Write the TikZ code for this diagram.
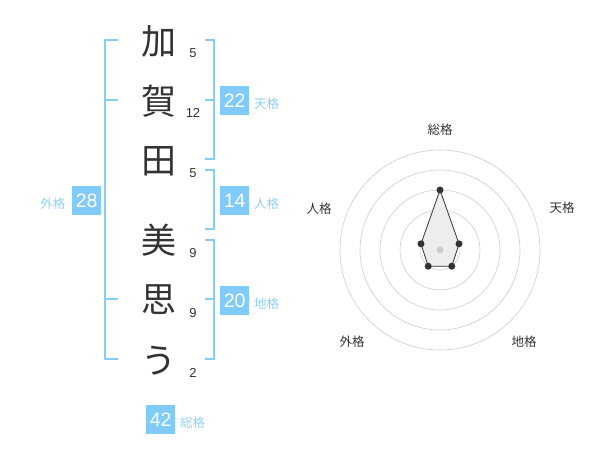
\documentclass[tikz,border=0pt]{standalone}
\usepackage{fontspec}
\setmainfont{Noto Sans CJK JP}
\newfontfamily\digitfont{Liberation Sans}
\definecolor{boxblue}{HTML}{80CBFA}
\definecolor{lineblue}{HTML}{86CDF8}
\definecolor{lblblue}{HTML}{8ED0F5}
\definecolor{ink}{HTML}{333333}
\definecolor{ring}{HTML}{CCCCCC}
\begin{document}
\begin{tikzpicture}[x=1pt,y=-1pt,
  kanji/.style={inner sep=0pt,text=ink,font=\fontsize{35}{35}\selectfont},
  stroke/.style={inner sep=0pt,text=ink,font=\digitfont\fontsize{13}{13}\selectfont},
  valbox/.style={fill=boxblue,text=white,minimum width=29pt,minimum height=29pt,inner sep=0pt,font=\digitfont\fontsize{19.5}{19.5}\selectfont},
  lbl/.style={inner sep=0pt,text=lblblue,font=\fontsize{12.5}{12.5}\selectfont},
  bracket/.style={draw=lineblue,line width=2pt},
  axis/.style={inner sep=0pt,text=ink,font=\fontsize{12.5}{12.5}\selectfont},
  ringc/.style={draw=ring,line width=0.6pt},
  dot/.style={circle,fill=ink,inner sep=0pt,minimum size=7pt}
]
\useasboundingbox (0,0) rectangle (600,470);
% name characters
\node[kanji] (c1) at (159,41) {加};
\node[kanji] (c2) at (159,101) {賀};
\node[kanji] (c3) at (159,161) {田};
\node[kanji] (c4) at (159,240) {美};
\node[kanji] (c5) at (159,300) {思};
\node[kanji] (c6) at (159,361) {う};
% stroke counts
\node[stroke] (s1) at (193,53) {5};
\node[stroke] (s2) at (193,113) {12};
\node[stroke] (s3) at (193,173) {5};
\node[stroke] (s4) at (193,253) {9};
\node[stroke] (s5) at (193,313) {9};
\node[stroke] (s6) at (193,373) {2};
% brackets
\draw[bracket] (118,40) -- (105,40) -- (105,359) -- (118,359);
\draw[bracket] (105,100) -- (118,100);
\draw[bracket] (105,299) -- (118,299);
\draw[bracket] (205,40) -- (214,40) -- (214,159) -- (205,159);
\draw[bracket] (214,100) -- (205,100);
\draw[bracket] (205,170) -- (214,170) -- (214,229) -- (205,229);
\draw[bracket] (205,240) -- (214,240) -- (214,359) -- (205,359);
\draw[bracket] (214,299) -- (205,299);
% value boxes
\node[valbox] (ten) at (234.7,100.5) {22};
\node[lbl,anchor=west] (tenl) at (254,104) {天格};
\node[valbox] (jin) at (234.7,200.5) {14};
\node[lbl,anchor=west] (jinl) at (254,203.5) {人格};
\node[valbox] (gai) at (86.7,200.5) {28};
\node[lbl,anchor=east] (gail) at (65.5,203.5) {外格};
\node[valbox] (chi) at (234.7,300.5) {20};
\node[lbl,anchor=west] (chil) at (254,304) {地格};
\node[valbox] (sou) at (160.7,419.5) {42};
\node[lbl,anchor=west] (soul) at (180,423) {総格};
% radar
\foreach \r in {20,40,60,80,100} \draw[ringc] (440,250) circle[radius=\r];
\coordinate (pS) at (440,190);
\coordinate (pT) at (459.0,243.8);
\coordinate (pC) at (451.8,266.2);
\coordinate (pG) at (428.2,266.2);
\coordinate (pJ) at (421.0,243.8);
\filldraw[fill=black!7,draw=ink,line width=0.8pt] (pS) -- (pT) -- (pC) -- (pG) -- (pJ) -- cycle;
\node[circle,fill=ring,inner sep=0pt,minimum size=7pt] (ctr) at (440,250) {};
\foreach \p in {pS,pT,pC,pG,pJ} \node[dot] at (\p) {};
\node[axis] (aS) at (440,130) {総格};
\node[axis] (aT) at (562,208) {天格};
\node[axis] (aJ) at (319,209) {人格};
\node[axis] (aG) at (352,342) {外格};
\node[axis] (aC) at (524,342) {地格};
\end{tikzpicture}
\end{document}
